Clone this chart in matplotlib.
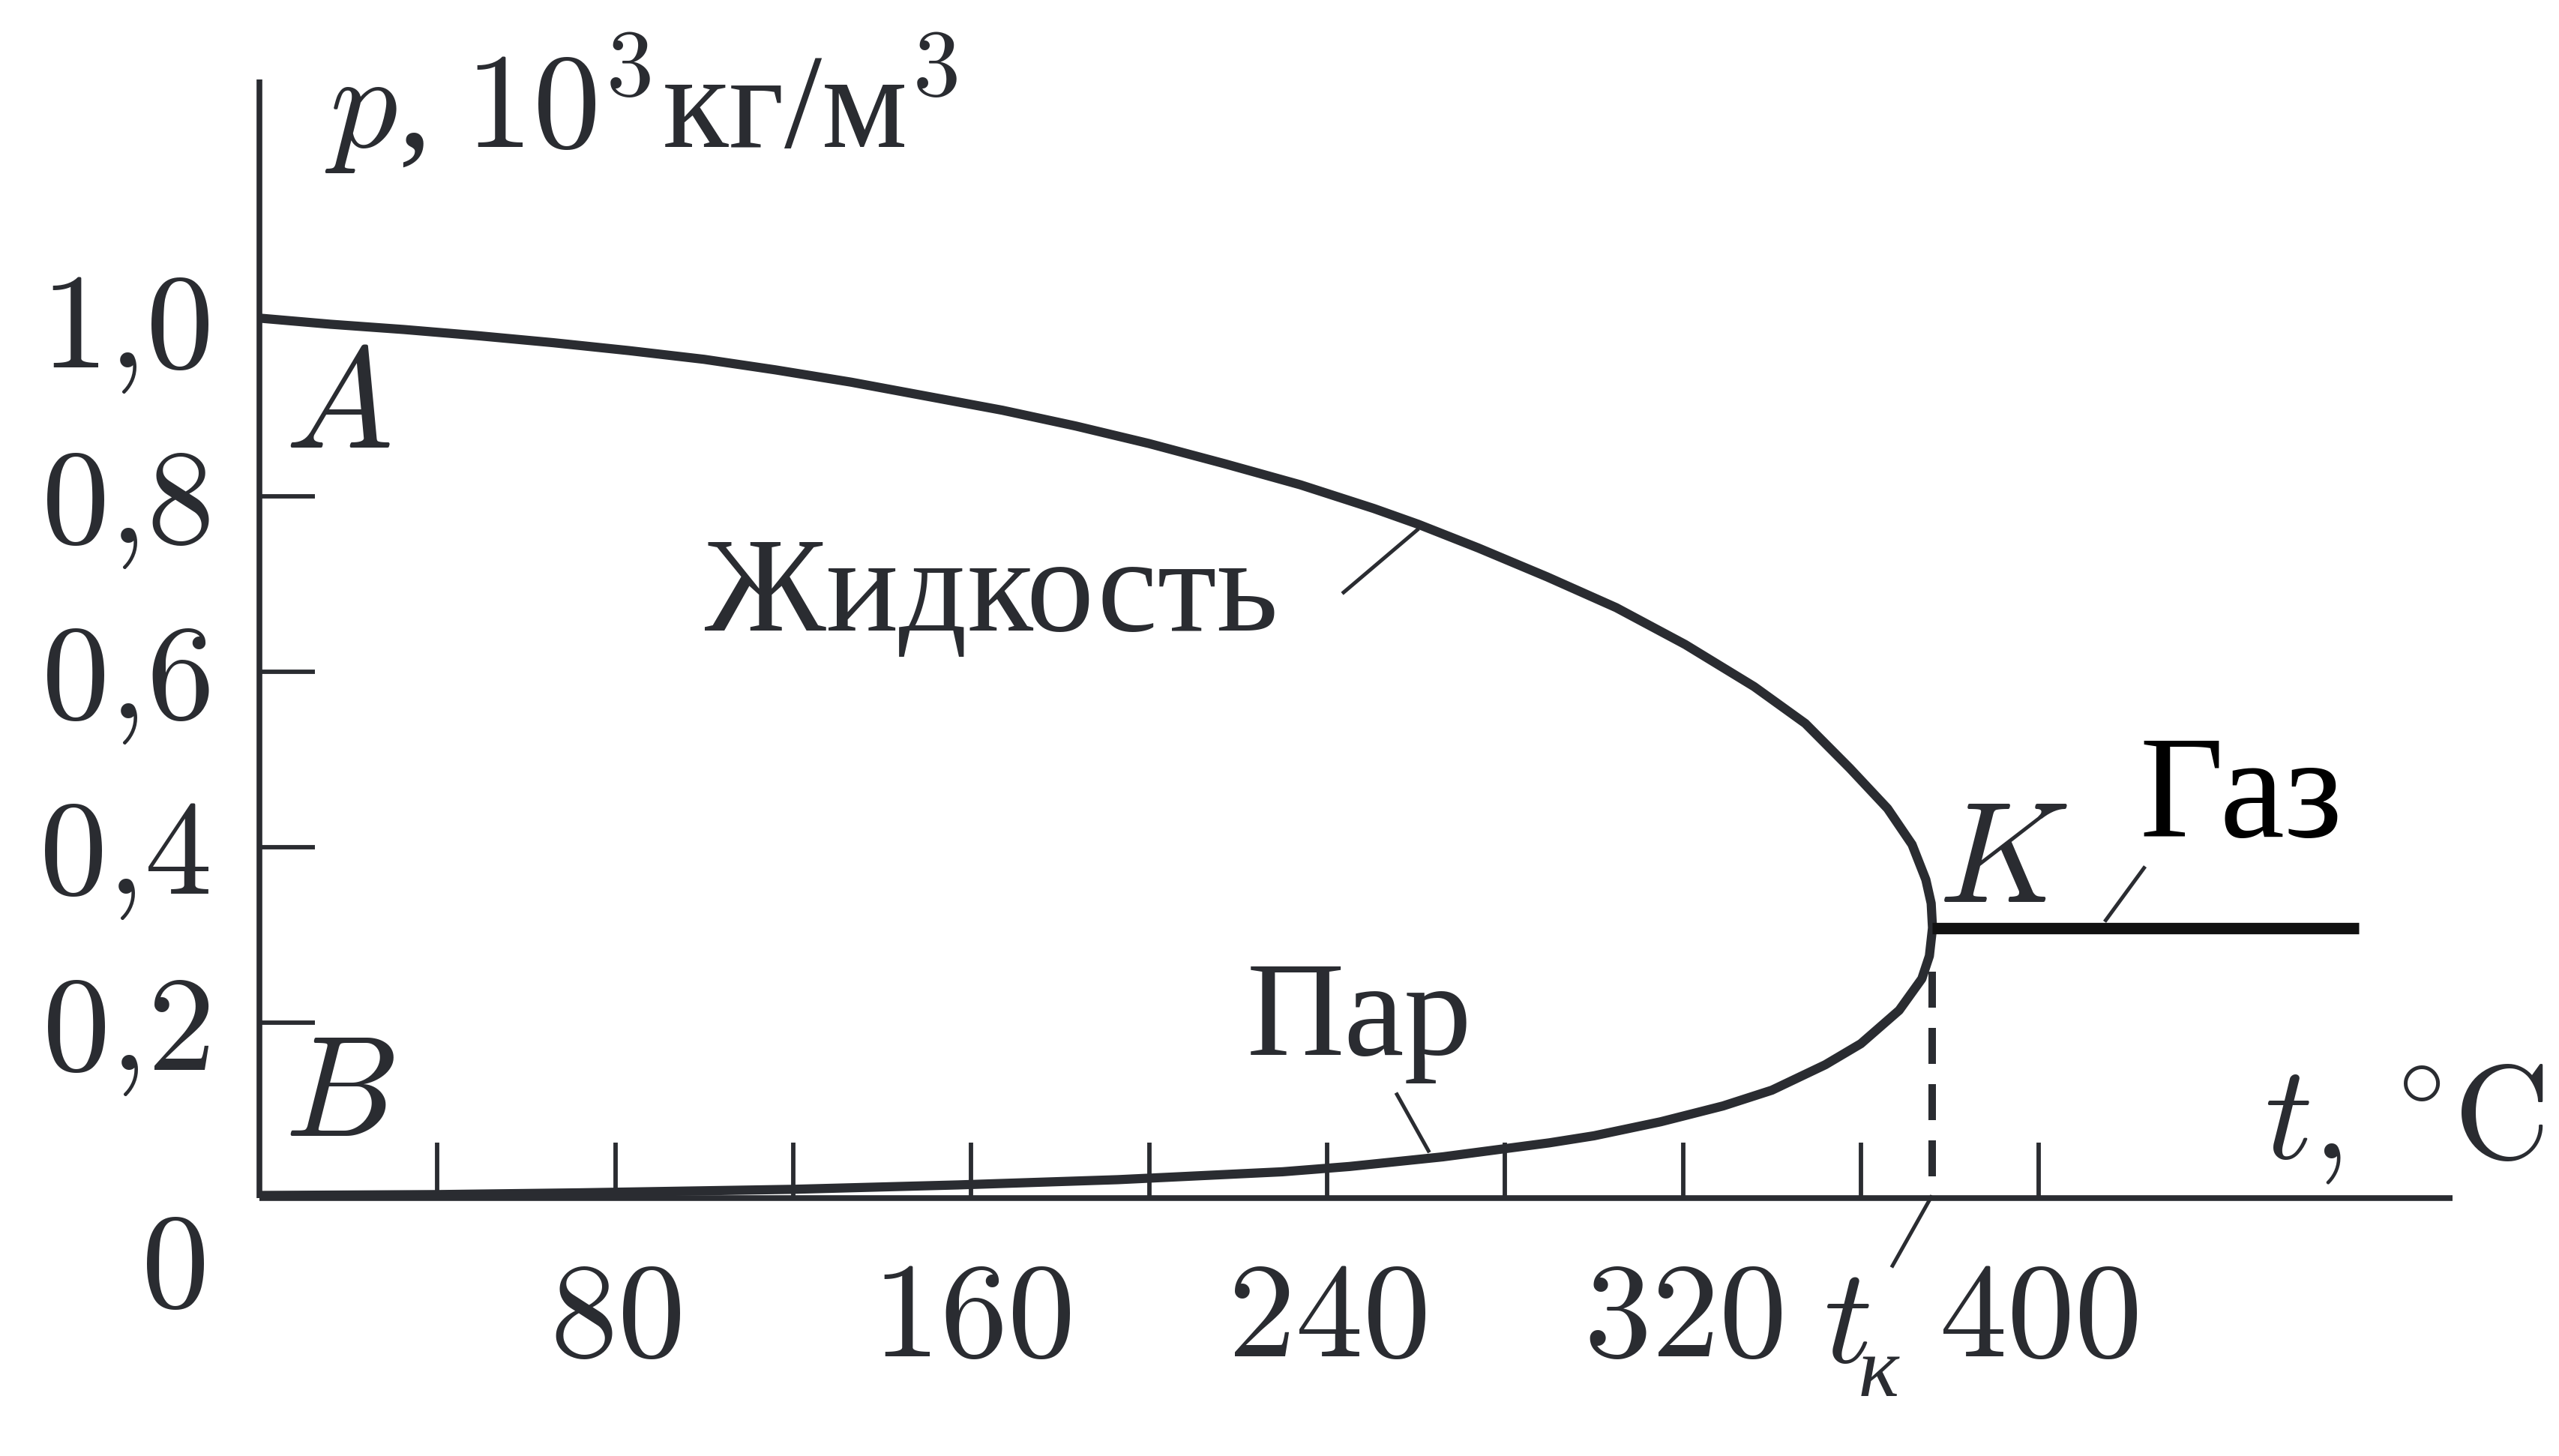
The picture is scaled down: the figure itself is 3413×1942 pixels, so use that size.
import numpy as np
import matplotlib
matplotlib.use("Agg")
import matplotlib.pyplot as plt

plt.rcParams['mathtext.fontset'] = 'cm'
plt.rcParams['font.family'] = ['Liberation Serif', 'DejaVu Serif']

# ---------------- data ----------------
# liquid branch (upper), t in deg C, density in 10^3 kg/m^3
t_liquid = [0, 16, 32.5, 49, 66, 83, 100, 116, 133, 150, 167, 183.5, 200, 217,
            234, 250.5, 260.5, 274, 289.5, 305, 320.5, 336, 347.5, 357.5, 366,
            371.5, 374.6, 375.8, 376.1]
rho_liquid = [1.003, 0.996, 0.990, 0.983, 0.975, 0.966, 0.956, 0.944, 0.930,
              0.914, 0.898, 0.880, 0.860, 0.837, 0.813, 0.786, 0.768, 0.741,
              0.708, 0.673, 0.631, 0.583, 0.541, 0.490, 0.444, 0.403, 0.363,
              0.336, 0.308]
# vapour branch (lower)
t_vapor = [0, 40, 72, 120, 157, 193, 230, 245, 266, 290, 300, 315, 329, 340,
           352, 360, 368.6, 373.7, 375.4, 376.1]
rho_vapor = [0.003, 0.004, 0.006, 0.010, 0.015, 0.021, 0.030, 0.036, 0.047,
             0.063, 0.071, 0.087, 0.105, 0.123, 0.152, 0.176, 0.214, 0.250,
             0.276, 0.308]
# supercritical gas
t_gas = [376.1, 472]
rho_gas = [0.308, 0.308]
t_critical = 376.1

x_ticks = [40, 80, 120, 160, 200, 240, 280, 320, 360, 400]
x_tick_labels = ['', '80', '', '160', '', '240', '', '320', '', '400']
y_ticks = [0.2, 0.4, 0.6, 0.8, 1.0]
y_tick_labels = ['0{,}2', '0{,}4', '0{,}6', '0{,}8', '1{,}0']

INK = '#2a2c31'

W, H = 3413, 1942
fig = plt.figure(figsize=(W / 100, H / 100), dpi=100)
ax = fig.add_axes([346 / W, 1 - 1598 / H, 2925 / W, 1492 / H])
ax.set_xlim(0, 493)
ax.set_ylim(0, 1.275)

for s in ['top', 'right']:
    ax.spines[s].set_visible(False)
for s in ['left', 'bottom']:
    ax.spines[s].set_linewidth(5.5)
    ax.spines[s].set_color(INK)
    ax.spines[s].set_capstyle('butt')

ax.set_xticks(x_ticks)
ax.set_xticklabels([f'${l}$' if l else '' for l in x_tick_labels])
ax.set_yticks(y_ticks)
ax.set_yticklabels([f'${l}$' for l in y_tick_labels])
ax.tick_params(axis='both', direction='in', length=53, width=4.2, color=INK,
               labelcolor=INK, labelsize=130)
ax.tick_params(axis='x', pad=62)
ax.tick_params(axis='y', pad=48)
ax.yaxis.get_major_ticks()[-1].tick1line.set_visible(False)

# main coexistence curve: liquid branch down to K, then vapour branch back
t_curve = np.concatenate([t_liquid, t_vapor[::-1]])
rho_curve = np.concatenate([rho_liquid, rho_vapor[::-1]])
ax.plot(t_curve, rho_curve, color=INK, lw=8.8, solid_joinstyle='round',
        solid_capstyle='butt', clip_on=False, zorder=3)

# gas line
ax.plot(t_gas, rho_gas, color='#111111', lw=11, solid_capstyle='butt', zorder=3)

# dashed line from K down to the axis
ax.plot([t_critical, t_critical], [0.258, 0.0], color=INK, lw=7.2,
        dashes=(4.8, 2.7), zorder=2)

# leader lines
lead_kw = dict(color=INK, lw=3.6, clip_on=False, solid_capstyle='butt')
ax.plot([243.4, 260.6], [0.689, 0.763], **lead_kw)     # Жидкость
ax.plot([255.5, 263.0], [0.120, 0.052], **lead_kw)     # Пар
ax.plot([423.9, 414.8], [0.378, 0.315], **lead_kw)     # Газ
ax.plot([376.0, 366.9], [0.003, -0.079], **lead_kw)    # t_k

# texts
ax.text(14.7, 1.197, r'$p$, $10^{3}$кг/м$^{3}$', fontsize=130, color=INK,
        ha='left', va='baseline', clip_on=False)
ax.text(17.5, 0.895, r'$A$', fontsize=138, color=INK, ha='center', va='center')
ax.text(18.0, 0.111, r'$B$', fontsize=138, color=INK, ha='center', va='center')
ax.text(392.0, 0.377, r'$K$', fontsize=138, color=INK, ha='center', va='center')
ax.text(100.1, 0.647, 'Жидкость', fontsize=130, color=INK, ha='left', va='baseline')
ax.text(222.0, 0.163, 'Пар', fontsize=130, color=INK, ha='left', va='baseline')
ax.text(422.6, 0.412, 'Газ', fontsize=140, color='black', ha='left', va='baseline')
ax.text(450.7, 0.045, r'$t,\,{}^{\circ}\mathrm{C}$', fontsize=128, color=INK,
        ha='left', va='baseline', clip_on=False)
ax.text(-19.4, -0.087, r'$0$', fontsize=130, color=INK, ha='center', va='center',
        clip_on=False)
ax.text(351.6, -0.187, r'$t$', fontsize=130, color=INK, ha='left', va='baseline',
        clip_on=False)
ax.text(359.5, -0.226, 'к', fontsize=83, color=INK, style='italic', ha='left',
        va='baseline', clip_on=False)

fig.savefig('out.png', dpi=100, facecolor='white')
